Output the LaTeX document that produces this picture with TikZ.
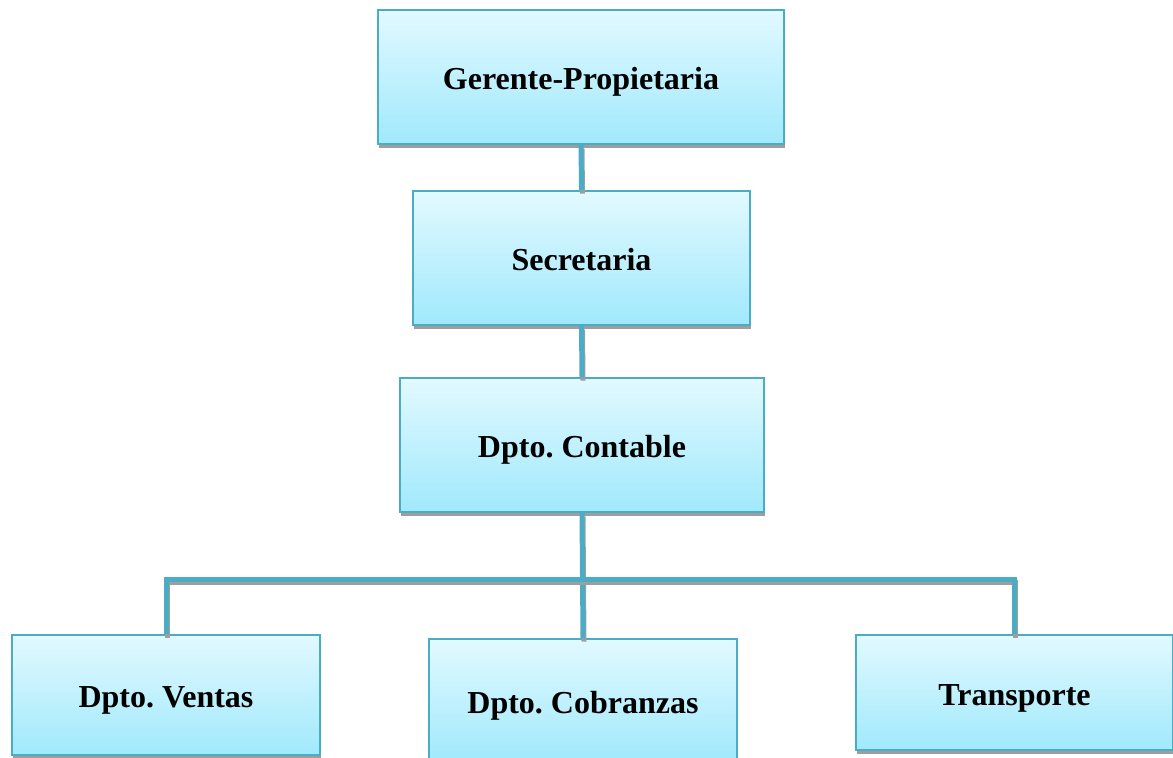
\documentclass[tikz,border=0pt]{standalone}
\usepackage{fontspec}
\setmainfont{Liberation Serif}
\frenchspacing
\usetikzlibrary{shadows}
\definecolor{linkblue}{RGB}{75,172,198}
\definecolor{boxtop}{RGB}{226,249,255}
\definecolor{boxbottom}{RGB}{160,233,252}
\begin{document}
\begin{tikzpicture}[x=0.5pt, y=-0.5pt,
        orgbox/.style={rectangle, draw=linkblue, line width=1pt, top color=boxtop, bottom color=boxbottom, inner sep=0pt, align=center, text height=12.5pt, text depth=0pt, font=\fontsize{16}{19}\selectfont\bfseries, drop shadow={shadow xshift=0.7pt, shadow yshift=-1.8pt, opacity=1, fill=black!38}},
        link/.style={draw=linkblue, line width=2.5pt, preaction={draw=black!38, line width=2.5pt, transform canvas={shift={(0.5pt,-1.8pt)}}}}
    ]
        \useasboundingbox (0,0) rectangle (1173,757);
        \node[orgbox, minimum width=203pt, minimum height=67pt] (gerente) at (581,77) {Gerente-Propietaria};
        \node[orgbox, minimum width=168.5pt, minimum height=67pt] (secretaria) at (581.5,258) {Secretaria};
        \node[orgbox, minimum width=182pt, minimum height=67pt] (contable) at (582,445) {Dpto. Contable};
        \node[orgbox, minimum width=154pt, minimum height=60pt] (ventas) at (166,695) {Dpto. Ventas};
        \node[orgbox, minimum width=154pt, minimum height=61.5pt] (cobranzas) at (583,700.5) {Dpto. Cobranzas};
        \node[orgbox, minimum width=158.5pt, minimum height=57.5pt] (transporte) at (1014.5,692.5) {Transporte};
        \coordinate (bus) at (581,579);
        \draw[link] (gerente.south) -- (secretaria.north);
        \draw[link] (secretaria.south) -- (contable.north);
        \draw[link] (contable.south) -- (cobranzas.north);
        \draw[link] (ventas.north) |- (bus) -| (transporte.north);
    \end{tikzpicture}
\end{document}
